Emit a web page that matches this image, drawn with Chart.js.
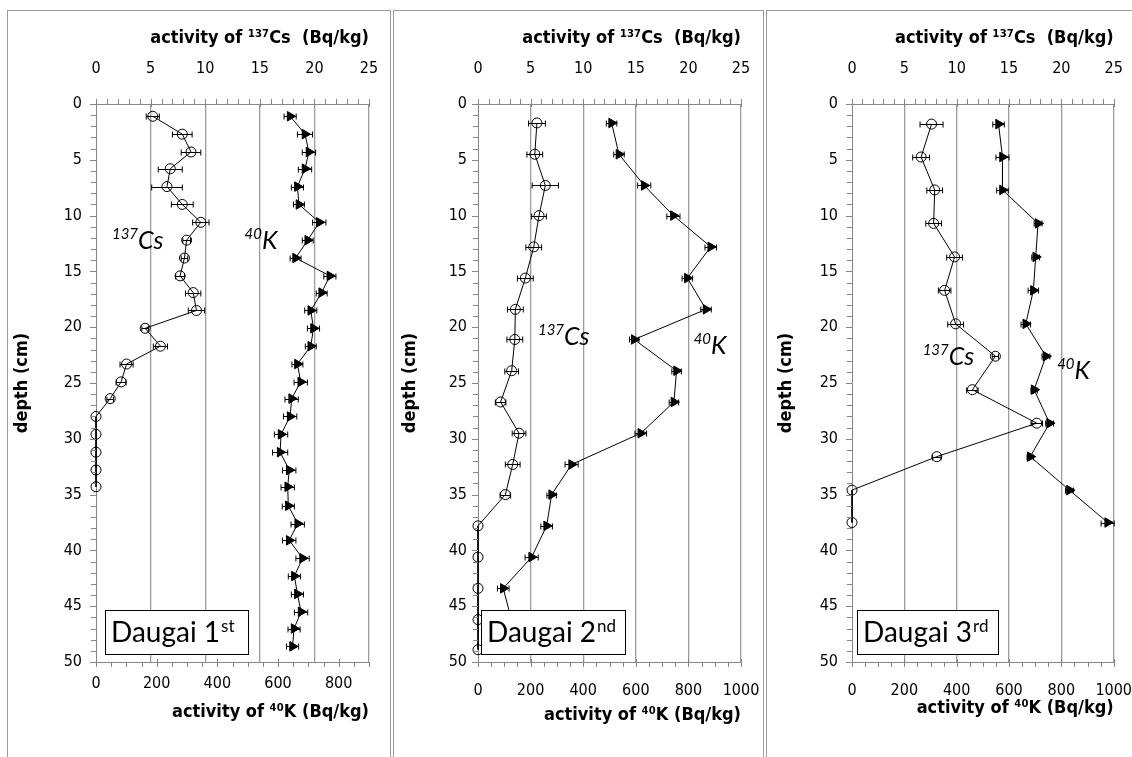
<!DOCTYPE html>
<html>
<head>
<meta charset="utf-8">
<script src="https://cdn.jsdelivr.net/npm/chart.js@4.4.1/dist/chart.umd.min.js"></script>
<style>
  body { margin:0; background:#fff; width:1132px; height:757px; overflow:hidden; position:relative; }
  .frame { position:absolute; top:10px; height:760px; border:1px solid #9a9a9a; box-sizing:border-box; background:#fff; }
  .frame canvas { position:absolute; left:0; top:0; }
</style>
</head>
<body>
<div class="frame" style="left:7px;width:384px;"><canvas id="c1" width="381" height="746"></canvas></div>
<div class="frame" style="left:393px;width:371px;"><canvas id="c2" width="368" height="746"></canvas></div>
<div class="frame" style="left:766px;width:380px;"><canvas id="c3" width="365" height="746"></canvas></div>
<script>
// Depth profiles of 137Cs and 40K activity, three Daugai cores

// tick labels
const csTicks = [0, 5, 10, 15, 20, 25];
const depthTicks = [0, 5, 10, 15, 20, 25, 30, 35, 40, 45, 50];
const kTicks1 = [0, 200, 400, 600, 800];
const kTicks23 = [0, 200, 400, 600, 800, 1000];

// Daugai 1st
const depth1 = [1.1, 2.7, 4.3, 5.8, 7.4, 9.0, 10.6, 12.2, 13.8, 15.4, 16.9, 18.5, 20.1, 21.7, 23.3, 24.9,
  26.4, 28.0, 29.6, 31.2, 32.8, 34.3, 36.0, 37.6, 39.1, 40.7, 42.3, 43.9, 45.5, 47.0, 48.6];
const cs1 = [5.2, 7.9, 8.7, 6.8, 6.5, 7.9, 9.6, 8.3, 8.1, 7.7, 8.9, 9.2, 4.5, 5.9, 2.8, 2.3, 1.3, 0, 0, 0, 0, 0];
const cs1Err = [0.6, 0.9, 0.9, 1.1, 1.4, 1.0, 0.75, 0.35, 0.3, 0.4, 0.7, 0.75, 0.3, 0.65, 0.6, 0.45, 0.3, 0, 0, 0, 0, 0];
const k1 = [640, 689, 702, 689, 664, 669, 736, 698, 658, 771, 744, 708, 717, 708, 664, 675,
  645, 640, 610, 607, 637, 632, 634, 665, 637, 681, 654, 664, 676, 653, 648];
const k1Err = [20, 25, 22, 22, 20, 18, 22, 18, 18, 20, 18, 20, 20, 18, 18, 22,
  22, 22, 22, 25, 22, 22, 20, 22, 22, 22, 20, 20, 22, 20, 20];

// Daugai 2nd
const depth2 = [1.7, 4.5, 7.3, 10.0, 12.8, 15.6, 18.4, 21.1, 23.9, 26.7, 29.5, 32.3, 35.0, 37.8, 40.6, 43.4, 46.2, 48.9];
const cs2 = [5.6, 5.4, 6.4, 5.8, 5.3, 4.5, 3.55, 3.5, 3.2, 2.15, 3.9, 3.3, 2.6, 0, 0, 0, 0, 0];
const cs2Err = [0.8, 0.75, 1.25, 0.7, 0.75, 0.75, 0.75, 0.75, 0.65, 0.5, 0.65, 0.7, 0.5, 0, 0, 0, 0, 0];
const k2 = [508, 536, 632, 743, 885, 796, 867, 594, 755, 745, 619, 356, 280, 261, 204, 96, 127];
const k2Err = [20, 20, 25, 25, 22, 20, 20, 18, 18, 18, 22, 25, 18, 22, 25, 22, 0];

// Daugai 3rd
const depth3 = [1.8, 4.75, 7.7, 10.7, 13.7, 16.7, 19.7, 22.6, 25.6, 28.6, 31.6, 34.6, 37.5];
const cs3 = [7.6, 6.6, 7.9, 7.8, 9.8, 8.85, 9.9, 13.7, 11.5, 17.65, 8.1, 0, 0];
const cs3Err = [1.1, 0.8, 0.75, 0.75, 0.75, 0.6, 0.75, 0.3, 0.55, 0.55, 0.4, 0, 0];
const k3 = [560, 575, 575, 711, 702, 693, 664, 741, 696, 755, 681, 831, 977];
const k3Err = [22, 25, 22, 15, 15, 20, 18, 15, 12, 15, 12, 15, 25];

const FONT = '"DejaVu Sans Condensed", "Liberation Sans Narrow", sans-serif';
const LABEL_FONT = 'Lato, "Open Sans", sans-serif';
const AXIS_GREY = '#868686';
const NONE = 'rgba(0,0,0,0)';

Chart.defaults.font.family = FONT;
Chart.defaults.color = '#000';

function pts(xs, ds) {
  return xs.map((v, i) => ({ x: v, y: ds[i] }));
}

// horizontal error bars with caps
const errorBars = {
  id: 'errorBars',
  afterDatasetsDraw(chart) {
    const ctx = chart.ctx;
    ctx.save();
    ctx.strokeStyle = '#000';
    ctx.lineWidth = 1;
    chart.data.datasets.forEach((ds, i) => {
      if (!ds.errors) return;
      const scale = chart.scales[ds.xAxisID];
      chart.getDatasetMeta(i).data.forEach((pt, j) => {
        const e = ds.errors[j];
        if (!e) return;
        const v = ds.data[j].x;
        const x1 = scale.getPixelForValue(v - e);
        const x2 = scale.getPixelForValue(v + e);
        const y = Math.round(pt.y) + 0.5;
        ctx.beginPath();
        ctx.moveTo(x1, y); ctx.lineTo(x2, y);
        ctx.moveTo(x1, y - 3); ctx.lineTo(x1, y + 3);
        ctx.moveTo(x2, y - 3); ctx.lineTo(x2, y + 3);
        ctx.stroke();
      });
    });
    ctx.restore();
  }
};

// Excel-like major / minor tick marks
const tickMarks = {
  id: 'tickMarks',
  afterDraw(chart, args, opts) {
    const { ctx, chartArea: a, scales } = chart;
    ctx.save();
    ctx.strokeStyle = AXIS_GREY;
    ctx.lineWidth = 1;
    ctx.beginPath();
    for (let v = 0; v <= 25; v += 1) {
      const x = Math.round(scales.xCs.getPixelForValue(v)) + 0.5;
      ctx.moveTo(x, a.top - 5);
      ctx.lineTo(x, a.top + (v % 5 === 0 ? 3 : 0));
    }
    for (let v = 0; v <= opts.kMax; v += 50) {
      const x = Math.round(scales.xK.getPixelForValue(v)) + 0.5;
      ctx.moveTo(x, a.bottom + 5);
      ctx.lineTo(x, a.bottom - (v % 200 === 0 ? 3 : 0));
    }
    for (let v = 0; v <= 50; v += 1) {
      const y = Math.round(scales.y.getPixelForValue(v)) + 0.5;
      ctx.moveTo(a.left - (v % 5 === 0 ? 6 : 5), y);
      ctx.lineTo(a.left, y);
    }
    ctx.stroke();
    ctx.restore();
  }
};

// series names and the core label box
const panelText = {
  id: 'panelText',
  afterDraw(chart, args, o) {
    const { ctx, chartArea: a, scales } = chart;
    ctx.save();
    ctx.fillStyle = '#000';
    ctx.textBaseline = 'alphabetic';
    function iso(sup, main, at) {
      let x = scales.xCs.getPixelForValue(at[0]);
      const y = scales.y.getPixelForValue(at[1]);
      ctx.font = 'italic 15px ' + LABEL_FONT;
      ctx.fillText(sup, x, y - 10);
      x += ctx.measureText(sup).width;
      ctx.font = 'italic 25px ' + LABEL_FONT;
      ctx.fillText(main, x, y);
    }
    iso('137', 'Cs', o.csAt);
    iso('40', 'K', o.kAt);

    const bx = a.left + o.boxDx, by = a.top + 506;
    ctx.fillStyle = '#fff';
    ctx.fillRect(bx, by, o.boxW, 44);
    ctx.strokeStyle = '#000';
    ctx.lineWidth = 1;
    ctx.strokeRect(Math.round(bx) + 0.5, by + 0.5, o.boxW, 44);
    ctx.fillStyle = '#000';
    ctx.font = '28px ' + LABEL_FONT;
    const main = 'Daugai ' + o.num;
    ctx.fillText(main, bx + 6, by + 32);
    const w = ctx.measureText(main).width;
    ctx.font = '17px ' + LABEL_FONT;
    ctx.fillText(o.sup, bx + 7 + w, by + 22);
    ctx.restore();
  }
};

function makePanel(id, p) {
  new Chart(document.getElementById(id), {
    type: 'scatter',
    data: {
      datasets: [
        {
          label: '137Cs',
          data: pts(p.cs, p.depth),
          errors: p.csErr,
          xAxisID: 'xCs', yAxisID: 'y',
          showLine: true,
          borderColor: '#000', borderWidth: 1,
          pointStyle: 'circle', pointRadius: 5,
          pointBorderColor: '#000', pointBorderWidth: 1,
          pointBackgroundColor: NONE,
          clip: false
        },
        {
          label: '40K',
          data: pts(p.k, p.depth),
          errors: p.kErr,
          xAxisID: 'xK', yAxisID: 'y',
          showLine: true,
          borderColor: '#000', borderWidth: 1,
          pointStyle: 'triangle', rotation: 90, pointRadius: 5.5,
          pointBorderColor: '#000', pointBackgroundColor: '#000',
          clip: false
        }
      ]
    },
    options: {
      responsive: false,
      animation: false,
      layout: { padding: { left: 0, right: p.padRight, top: 0, bottom: 0 } },
      plugins: {
        legend: { display: false },
        tooltip: { enabled: false },
        tickMarks: { kMax: p.kMax },
        panelText: p.text
      },
      scales: {
        xCs: {
          type: 'linear', position: 'top', min: 0, max: 25,
          afterBuildTicks: s => { s.ticks = csTicks.map(v => ({ value: v })); },
          afterFit: s => { s.height = 93; },
          ticks: { padding: 0, font: { size: 16 }, maxRotation: 0, callback: v => String(v) },
          grid: {
            drawTicks: true, tickLength: 26, tickColor: NONE, lineWidth: 1.3,
            color: c => (c.tick && c.tick.value === 0) ? NONE : '#9c9c9c'
          },
          border: { display: true, color: AXIS_GREY },
          title: {
            display: true, text: 'activity of ¹³⁷Cs  (Bq/kg)', align: 'end',
            font: { size: 18, weight: 'bold' }, padding: { top: 17 }
          }
        },
        xK: {
          type: 'linear', position: 'bottom', min: 0, max: p.kMax,
          afterBuildTicks: s => { s.ticks = p.kTicks.map(v => ({ value: v })); },
          afterFit: s => { s.height = 95; },
          ticks: { padding: 0, font: { size: 16 }, maxRotation: 0, callback: v => String(v) },
          grid: { drawTicks: true, tickLength: p.kTickLen, tickColor: NONE, color: NONE, drawOnChartArea: false },
          border: { display: true, color: AXIS_GREY },
          title: {
            display: true, text: 'activity of ⁴⁰K (Bq/kg)', align: 'end',
            font: { size: 18, weight: 'bold' }, padding: { bottom: p.kTitlePad }
          }
        },
        y: {
          type: 'linear', reverse: true, min: 0, max: 50,
          afterBuildTicks: s => { s.ticks = depthTicks.map(v => ({ value: v })); },
          afterFit: s => { s.width = p.yWidth; },
          ticks: { padding: 0, font: { size: 16 }, callback: v => String(v) },
          grid: { drawTicks: true, tickLength: p.yTickLen, tickColor: NONE, color: NONE, drawOnChartArea: false },
          border: { display: true, color: AXIS_GREY },
          title: {
            display: true, text: 'depth (cm)',
            font: { size: 18, weight: 'bold' }, padding: { top: p.yTitlePad }
          }
        }
      }
    },
    plugins: [errorBars, tickMarks, panelText]
  });
}

makePanel('c1', {
  depth: depth1, cs: cs1, csErr: cs1Err, k: k1, kErr: k1Err,
  kMax: 900, kTicks: kTicks1, padRight: 20, yWidth: 88,
  kTickLen: 12, kTitlePad: 34, yTickLen: 14, yTitlePad: 4,
  text: { csAt: [1.46, 13.0], kAt: [13.6, 13.0], boxDx: 9, boxW: 143, num: '1', sup: 'st' }
});

makePanel('c2', {
  depth: depth2, cs: cs2, csErr: cs2Err, k: k2, kErr: k2Err,
  kMax: 1000, kTicks: kTicks23, padRight: 21, yWidth: 84,
  kTickLen: 19, kTitlePad: 31, yTickLen: 11, yTitlePad: 6,
  text: { csAt: [5.7, 21.6], kAt: [20.5, 22.4], boxDx: 3, boxW: 144, num: '2', sup: 'nd' }
});

makePanel('c3', {
  depth: depth3, cs: cs3, csErr: cs3Err, k: k3, kErr: k3Err,
  kMax: 1000, kTicks: kTicks23, padRight: 17, yWidth: 85,
  kTickLen: 19, kTitlePad: 38, yTickLen: 14, yTitlePad: 9,
  text: { csAt: [6.75, 23.4], kAt: [19.6, 24.6], boxDx: 5, boxW: 141, num: '3', sup: 'rd' }
});
</script>
</body>
</html>
